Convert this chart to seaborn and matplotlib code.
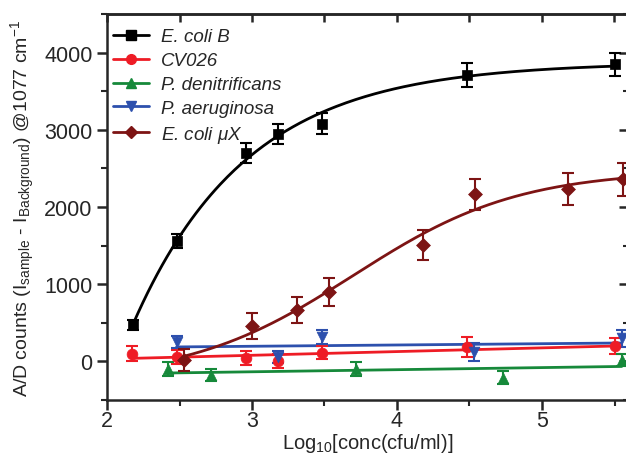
import numpy as np
import matplotlib
matplotlib.use('Agg')
import matplotlib.pyplot as plt
from matplotlib.lines import Line2D
from matplotlib.ticker import MultipleLocator
import seaborn as sns

# measured points, log10 concentration vs A/D counts
ecoli_b_x = [2.18, 2.48, 2.96, 3.18, 3.48, 4.48, 5.50]
ecoli_b_y = [470, 1560, 2700, 2950, 3080, 3710, 3850]
ecoli_b_err = [65, 95, 125, 130, 140, 150, 150]

cv026_x = [2.17, 2.48, 2.96, 3.18, 3.48, 4.48, 5.50]
cv026_y = [100, 60, 40, 5, 115, 190, 200]
cv026_err = [95, 90, 90, 90, 90, 130, 100]

pden_x = [2.42, 2.72, 3.72, 4.73, 5.55]
pden_y = [-100, -175, -95, -210, 20]
pden_err = [90, 80, 90, 80, 80]

paer_x = [2.48, 3.18, 3.48, 4.53, 5.55]
paer_y = [250, 60, 320, 120, 300]
paer_err = [80, 80, 90, 120, 110]

ecoli_ux_x = [2.53, 3.00, 3.31, 3.53, 4.18, 4.54, 5.18, 5.56]
ecoli_ux_y = [15, 460, 665, 900, 1505, 2165, 2230, 2360]
ecoli_ux_err = [140, 170, 170, 180, 195, 200, 205, 215]

labels = ['E. coli B', 'CV026', 'P. denitrificans', 'P. aeruginosa', r'E. coli $\mu$X']
colors = ['#000000', '#ee1c25', '#16893a', '#2d50ad', '#7d1414']
markers = ['s', 'o', '^', 'v', 'D']


def fit_saturation(x, y):
    # y = a - b*exp(-k x), scan k and solve a, b linearly
    x, y = np.asarray(x, float), np.asarray(y, float)
    best = None
    for k in np.linspace(0.2, 5, 961):
        m = np.column_stack([np.ones_like(x), -np.exp(-k * x)])
        coef, *_ = np.linalg.lstsq(m, y, rcond=None)
        err = np.sum((m @ coef - y) ** 2)
        if best is None or err < best[0]:
            best = (err, k, coef)
    _, k, (a, b) = best
    return lambda t: a - b * np.exp(-k * t)


def fit_logistic(x, y):
    x, y = np.asarray(x, float), np.asarray(y, float)
    best = None
    for x0 in np.linspace(3.0, 5.5, 126):
        for dx in np.linspace(0.15, 1.5, 136):
            s = 1 / (1 + np.exp(-(x - x0) / dx))
            m = np.column_stack([np.ones_like(x), s])
            coef, *_ = np.linalg.lstsq(m, y, rcond=None)
            err = np.sum((m @ coef - y) ** 2)
            if best is None or err < best[0]:
                best = (err, x0, dx, coef)
    _, x0, dx, (a, b) = best
    return lambda t: a + b / (1 + np.exp(-(t - x0) / dx))


def fit_linear(x, y):
    p = np.polyfit(x, y, 1)
    return lambda t: np.polyval(p, t)


series = [
    (ecoli_b_x, ecoli_b_y, ecoli_b_err, fit_saturation),
    (cv026_x, cv026_y, cv026_err, fit_linear),
    (pden_x, pden_y, pden_err, fit_linear),
    (paer_x, paer_y, paer_err, fit_linear),
    (ecoli_ux_x, ecoli_ux_y, ecoli_ux_err, fit_logistic),
]

sns.set_style('ticks')
plt.rcParams['font.family'] = ['Liberation Sans', 'DejaVu Sans']
plt.rcParams['mathtext.fontset'] = 'custom'
plt.rcParams['mathtext.rm'] = 'Liberation Sans'
plt.rcParams['mathtext.it'] = 'Liberation Sans:italic'

fig = plt.figure(figsize=(6.26, 4.56), dpi=100)
ax = fig.add_axes([107 / 626, 55 / 456, 522 / 626, 386 / 456])

handles = []
for (x, y, err, fitter), lab, col, mk in zip(series, labels, colors, markers):
    f = fitter(x, y)
    xs = np.linspace(min(x), max(x), 200)
    sns.lineplot(x=xs, y=f(xs), color=col, lw=2.0, ax=ax, zorder=2)
    ax.errorbar(x, y, yerr=err, fmt='none', ecolor=col, elinewidth=1.5,
                capsize=4, capthick=1.5, zorder=3)
    sns.scatterplot(x=x, y=y, color=col, marker=mk, s=60 if mk != 'D' else 50,
                    edgecolor=col, linewidth=0.5, ax=ax, zorder=4)
    handles.append(Line2D([], [], color=col, lw=2.0, marker=mk,
                          markersize=7 if mk != 'D' else 6.5))

ax.set_xlim(2, 5.6)
ax.set_ylim(-500, 4500)
ax.xaxis.set_major_locator(MultipleLocator(1))
ax.xaxis.set_minor_locator(MultipleLocator(0.5))
ax.yaxis.set_major_locator(MultipleLocator(1000))
ax.yaxis.set_minor_locator(MultipleLocator(500))
ax.tick_params(which='major', direction='out', length=7, width=1.8, labelsize=15.5)
ax.tick_params(which='minor', direction='out', length=4, width=1.5)
ax.tick_params(axis='x', which='major', pad=0.5)
for s in ax.spines.values():
    s.set_linewidth(1.8)

top = ax.secondary_xaxis('top')
top.xaxis.set_major_locator(MultipleLocator(0.5))
top.tick_params(direction='in', length=6, width=1.8, labeltop=False)
right = ax.secondary_yaxis('right')
right.yaxis.set_major_locator(MultipleLocator(1000))
right.yaxis.set_minor_locator(MultipleLocator(500))
right.tick_params(which='major', direction='in', length=7, width=1.8, labelright=False)
right.tick_params(which='minor', direction='in', length=4, width=1.5)
for s in list(top.spines.values()) + list(right.spines.values()):
    s.set_linewidth(1.8)

ax.set_xlabel(r'Log$_{10}$[conc(cfu/ml)]', fontsize=14.5, labelpad=0)
ax.set_ylabel(r'A/D counts (I$_{\mathrm{sample}}$ - I$_{\mathrm{Background}}$) @1077 cm$^{-1}$',
              fontsize=14, labelpad=5)

leg = ax.legend(handles, labels, loc='upper left', frameon=False,
                bbox_to_anchor=(-0.016, 1.0), borderaxespad=0, borderpad=0.76,
                prop={'style': 'italic', 'size': 13.5}, handlelength=1.9,
                handletextpad=0.65, labelspacing=0.36)

fig.savefig('out.png', dpi=100)
